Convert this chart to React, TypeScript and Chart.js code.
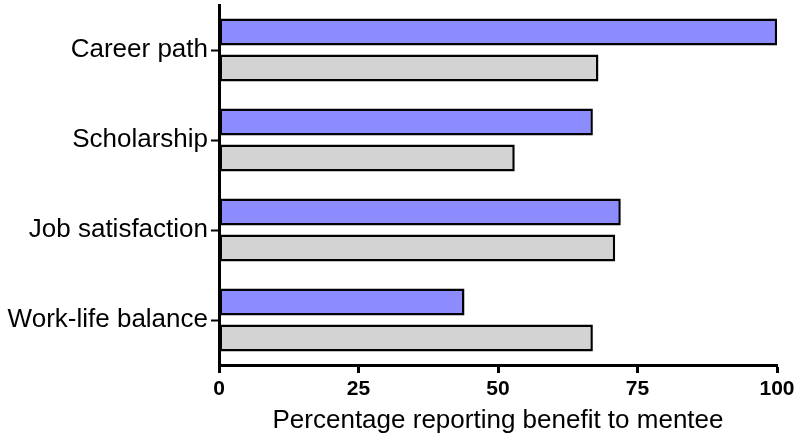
import React, { useEffect, useRef } from 'react';
import { Chart, registerables } from 'chart.js';

Chart.register(...registerables);

const categories = ['Career path', 'Scholarship', 'Job satisfaction', 'Work-life balance'];
const seriesBlue = [100, 67, 72, 44];
const seriesGray = [68, 53, 71, 67];
const xTickValues = [0, 25, 50, 75, 100];
const xTitle = 'Percentage reporting benefit to mentee';

const FAMILY = "Arial, 'Liberation Sans', Helvetica, sans-serif";

export default function App() {
  const ref = useRef<HTMLCanvasElement>(null);
  useEffect(() => {
    if (!ref.current) return;
    const chart = new Chart(ref.current, {
      type: 'bar',
      data: {
        labels: categories,
        datasets: [
          {
            label: 'Blue',
            data: seriesBlue,
            backgroundColor: '#8c8cff',
            borderColor: '#000000',
            borderWidth: 2.5,
            borderSkipped: false,
            categoryPercentage: 0.8,
            barPercentage: 0.75,
          },
          {
            label: 'Gray',
            data: seriesGray,
            backgroundColor: '#d3d3d3',
            borderColor: '#000000',
            borderWidth: 2.5,
            borderSkipped: false,
            categoryPercentage: 0.8,
            barPercentage: 0.75,
          },
        ],
      },
      options: {
        indexAxis: 'y',
        responsive: false,
        animation: false,
        layout: { padding: { top: 5, right: 23, bottom: 0, left: 0 } },
        plugins: {
          legend: { display: false },
          tooltip: { enabled: false },
        },
        scales: {
          x: {
            type: 'linear',
            min: 0,
            max: 100,
            afterBuildTicks: (s: any) => {
              s.ticks = xTickValues.map((v) => ({ value: v }));
            },
            afterFit: (s: any) => {
              s.height = 74;
              s.paddingLeft = 0;
              s.paddingRight = 0;
            },
            grid: {
              display: true,
              drawOnChartArea: false,
              drawTicks: true,
              tickLength: 8,
              tickWidth: 3,
              color: '#000000',
            },
            border: { display: true, color: '#000000', width: 3 },
            ticks: {
              color: '#000000',
              font: { family: FAMILY, size: 21, weight: 'bold' },
              padding: 4,
              maxRotation: 0,
            },
            title: {
              display: true,
              text: xTitle,
              color: '#000000',
              font: { family: FAMILY, size: 26 },
              padding: { top: 0, bottom: 3 },
            },
          },
          y: {
            afterFit: (s: any) => {
              s.width = 219;
              s.paddingTop = 0;
              s.paddingBottom = 0;
            },
            grid: {
              display: true,
              offset: false,
              drawOnChartArea: false,
              drawTicks: true,
              tickLength: 8,
              tickWidth: 2,
              color: '#000000',
            },
            border: { display: true, color: '#000000', width: 3 },
            ticks: {
              color: '#000000',
              font: { family: FAMILY, size: 26 },
              padding: 3,
            },
          },
        },
      },
    } as any);
    return () => chart.destroy();
  }, []);
  return (
    <div style={{ position: 'fixed', left: 0, top: 0, width: 800, height: 439, background: '#ffffff' }}>
      <canvas ref={ref} width={800} height={439} style={{ display: 'block' }} />
    </div>
  );
}
